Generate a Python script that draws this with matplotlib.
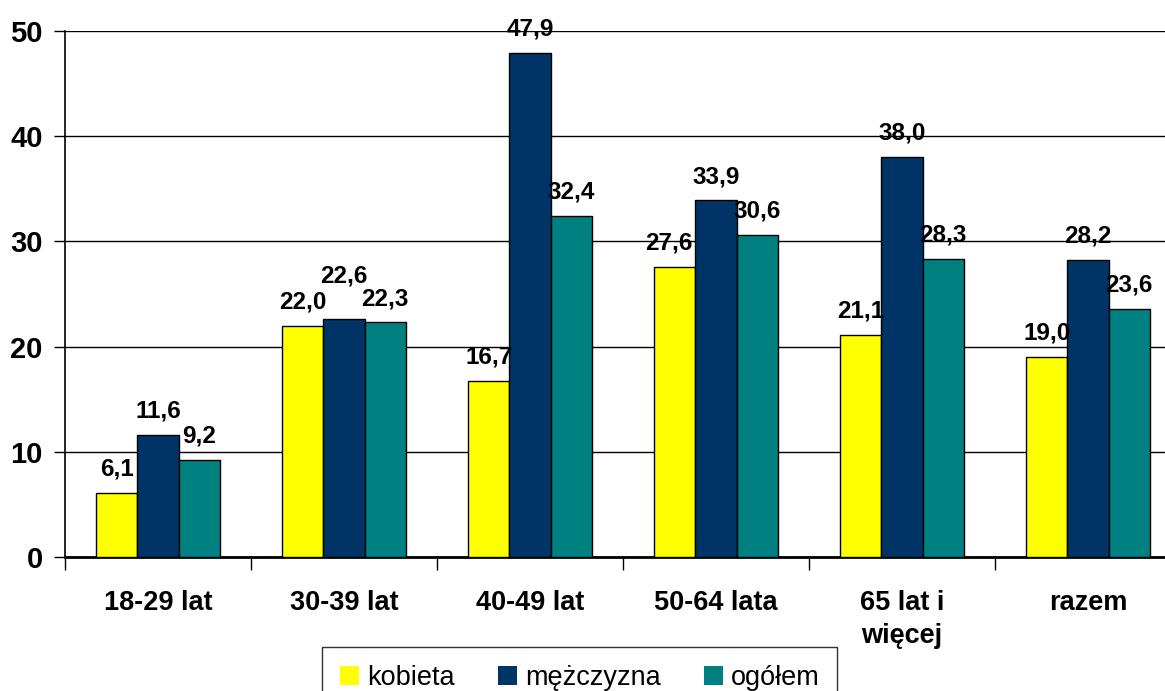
import matplotlib.pyplot as plt
import numpy as np

plt.rcParams['font.family'] = ['Liberation Sans', 'DejaVu Sans']

# data
categories = ["18-29 lat", "30-39 lat", "40-49 lat", "50-64 lata", "65 lat i\nwięcej", "razem"]
kobieta = [6.1, 22.0, 16.7, 27.6, 21.1, 19.0]
mezczyzna = [11.6, 22.6, 47.9, 33.9, 38.0, 28.2]
ogolem = [9.2, 22.3, 32.4, 30.6, 28.3, 23.6]
series_names = ["kobieta", "mężczyzna", "ogółem"]
colors = ["#FFFF00", "#003366", "#008080"]

# labels moved by hand in the original (series index, category index) -> (dx, dy) points
nudges = {(1, 1): (0, 14), (0, 3): (-4, 0)}

fig = plt.figure(figsize=(11.65, 6.91), dpi=100)
ax = fig.add_axes([65 / 1165, 1 - 557 / 691, 1116 / 1165, 526 / 691])

x = np.arange(len(categories))
w = 0.222
for i, (vals, name, c) in enumerate(zip([kobieta, mezczyzna, ogolem], series_names, colors)):
    pos = x + (i - 1) * w
    ax.bar(pos, vals, width=w, color=c, edgecolor="black", linewidth=1, label=name, zorder=3)
    for j, (p, v) in enumerate(zip(pos, vals)):
        dx, dy = nudges.get((i, j), (0, 0))
        ax.annotate(f"{v:.1f}".replace(".", ","), (p, v), xytext=(dx, 12.5 + dy),
                    textcoords="offset points", ha="center", va="baseline",
                    fontsize=17.5, fontweight="bold", zorder=4)

ax.set_ylim(0, 50)
ax.set_xlim(-0.5, len(categories) - 0.5)
ax.set_yticks(range(0, 51, 10))
ax.tick_params(axis="y", labelsize=21, length=8, width=1, pad=8)
for lab in ax.get_yticklabels():
    lab.set_fontweight("bold")
ax.yaxis.grid(True, color="black", linewidth=1, zorder=0)

# category labels between boundary ticks
ax.set_xticks(np.arange(-0.5, len(categories), 1.0))
ax.set_xticklabels([])
ax.tick_params(axis="x", length=9, width=1)
ax.set_xticks(x, minor=True)
ax.set_xticklabels(categories, minor=True, fontsize=19.5, fontweight="bold", linespacing=1.35)
ax.tick_params(axis="x", which="minor", length=0, pad=24)

for s in ["top", "right"]:
    ax.spines[s].set_visible(False)
ax.spines["left"].set_linewidth(1.2)
ax.spines["bottom"].set_linewidth(2)

leg = fig.legend(loc="upper left", bbox_to_anchor=(322 / 1165, 1 - 647 / 691), ncol=3,
                 fontsize=19.5, frameon=True, fancybox=False, edgecolor="black",
                 handlelength=0.7, handleheight=0.7, handletextpad=0.3, columnspacing=1.6,
                 borderpad=0.65, borderaxespad=0)
leg.get_frame().set_linewidth(1)
for h in leg.legend_handles:
    h.set_edgecolor("none")

fig.savefig("out.png", dpi=100)
